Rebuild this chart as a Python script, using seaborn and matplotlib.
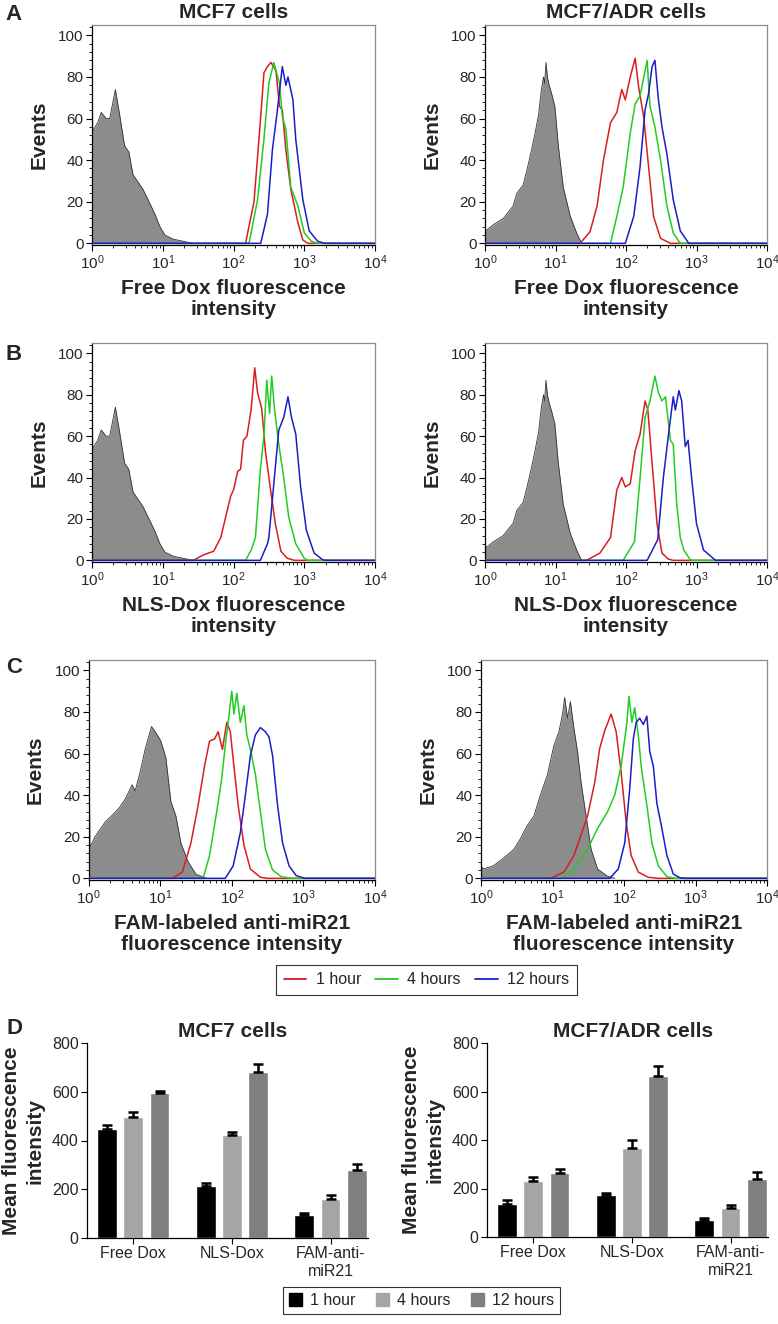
import numpy as np
import pandas as pd
import matplotlib
matplotlib.use("Agg")
import matplotlib.pyplot as plt
from matplotlib.lines import Line2D
from matplotlib.patches import Patch
from matplotlib.ticker import MultipleLocator, LogLocator, NullFormatter
import seaborn as sns

# === histogram data (x = log10 intensity, y = events) ===
# untreated controls (gray)
ctrl_mcf7_lx = [0.0, 0.01, 0.08, 0.13, 0.2, 0.25, 0.33, 0.39, 0.46, 0.52, 0.58, 0.62, 0.72, 0.82, 0.89, 0.96, 1.03, 1.15, 1.29, 1.43]
ctrl_mcf7_y = [100, 54, 58, 63, 60, 60, 74, 62, 47, 44, 33, 31, 26, 19, 14, 8, 4, 2, 1, 0]
ctrl_adr_lx = [0.0, 0.01, 0.12, 0.26, 0.40, 0.45, 0.54, 0.60, 0.66, 0.71, 0.76, 0.80, 0.83, 0.845, 0.865, 0.885, 0.91, 0.945, 0.99, 1.04, 1.11, 1.21, 1.30, 1.37]
ctrl_adr_y = [12, 6, 9, 12, 18, 24, 28, 36, 45, 53, 62, 74, 80, 77, 87, 80, 76, 72, 66, 47, 27, 13, 5, 0]
ctrl_fam_mcf7_lx = [0.0, 0.02, 0.05, 0.09, 0.13, 0.23, 0.32, 0.42, 0.51, 0.61, 0.65, 0.72, 0.79, 0.88, 0.96, 1.01, 1.08, 1.15, 1.22, 1.29, 1.39, 1.50, 1.65]
ctrl_fam_mcf7_y = [100, 15, 17, 20, 22, 27, 30, 33.5, 38, 45, 42, 51, 62, 73, 69, 66, 58, 37, 30, 17, 8, 2, 0]
ctrl_fam_adr_lx = [0.0, 0.03, 0.17, 0.27, 0.36, 0.46, 0.55, 0.64, 0.74, 0.83, 0.93, 1.02, 1.09, 1.14, 1.17, 1.21, 1.25, 1.30, 1.35, 1.40, 1.47, 1.54, 1.63, 1.77, 1.87]
ctrl_fam_adr_y = [6, 4.5, 6, 8.5, 11, 14, 19, 25, 30, 40, 50, 64, 70.5, 79, 87, 77, 85, 72, 61, 46, 30, 14, 4.5, 1, 0]

# A: free Dox
a_mcf7_1h_lx = [2.17, 2.29, 2.385, 2.43, 2.48, 2.53, 2.6, 2.65, 2.69, 2.74, 2.81, 2.91, 2.98, 3.05]
a_mcf7_1h_y = [0, 20, 61, 82, 85, 87, 83, 66, 64, 45, 26, 10, 1.6, 0]
a_mcf7_4h_lx = [2.22, 2.34, 2.43, 2.50, 2.57, 2.65, 2.69, 2.74, 2.81, 2.91, 3.0, 3.1, 3.19]
a_mcf7_4h_y = [0, 21, 50, 77, 87, 77, 61, 55, 27, 18, 5, 1, 0]
a_mcf7_12h_lx = [2.385, 2.48, 2.55, 2.62, 2.69, 2.74, 2.77, 2.84, 2.88, 2.98, 3.07, 3.19, 3.29]
a_mcf7_12h_y = [0, 14, 45, 64, 85, 76, 80, 69, 50, 21, 6, 1, 0]
a_adr_1h_lx = [1.35, 1.49, 1.59, 1.68, 1.78, 1.87, 1.94, 1.99, 2.06, 2.13, 2.18, 2.25, 2.32, 2.39, 2.49, 2.63]
a_adr_1h_y = [0, 5.6, 18, 40, 58, 63, 74, 69, 80, 89, 75, 61, 37, 13, 2.4, 0]
a_adr_4h_lx = [1.78, 1.87, 1.96, 2.06, 2.13, 2.20, 2.30, 2.34, 2.41, 2.49, 2.58, 2.67, 2.77]
a_adr_4h_y = [0, 13, 27, 53, 67, 71, 88, 66, 56, 40, 18, 5, 0]
a_adr_12h_lx = [1.99, 2.11, 2.20, 2.27, 2.32, 2.37, 2.41, 2.46, 2.51, 2.58, 2.67, 2.77, 2.89]
a_adr_12h_y = [0, 13, 37, 64, 72, 85, 88, 69, 56, 43, 21, 6, 0]

# B: NLS-Dox
b_mcf7_1h_lx = [1.43, 1.58, 1.72, 1.82, 1.96, 2.0, 2.06, 2.1, 2.14, 2.19, 2.25, 2.3, 2.34, 2.40, 2.45, 2.52, 2.59, 2.67, 2.76, 2.86]
b_mcf7_1h_y = [0, 2.7, 4.4, 11, 31, 34, 43, 44, 58, 60, 73, 93, 81, 73, 53, 35, 18, 4.4, 1, 0]
b_mcf7_4h_lx = [2.17, 2.25, 2.31, 2.38, 2.43, 2.47, 2.51, 2.54, 2.58, 2.64, 2.71, 2.78, 2.88, 3.0, 3.05]
b_mcf7_4h_y = [0, 5, 11, 44, 60, 87, 71, 89, 73, 56, 40, 21, 8, 1, 0]
b_mcf7_12h_lx = [2.38, 2.48, 2.5, 2.57, 2.64, 2.71, 2.77, 2.82, 2.88, 2.95, 3.03, 3.14, 3.26, 3.3]
b_mcf7_12h_y = [0, 8, 11, 37, 63, 69, 79, 69, 61, 35, 14.5, 3.5, 0.3, 0]
b_adr_1h_lx = [1.44, 1.63, 1.78, 1.87, 1.94, 1.99, 2.06, 2.13, 2.20, 2.27, 2.31, 2.37, 2.44, 2.51, 2.60, 2.67]
b_adr_1h_y = [0, 3.5, 11, 34, 40, 35.5, 37, 53, 61, 77, 72.6, 47, 17.7, 3.5, 0.6, 0]
b_adr_4h_lx = [1.96, 2.12, 2.20, 2.27, 2.34, 2.41, 2.46, 2.51, 2.56, 2.63, 2.67, 2.72, 2.77, 2.82, 2.91, 2.95]
b_adr_4h_y = [0, 9, 40, 69, 77, 89, 81, 77, 79, 58, 56, 27, 11, 5, 0.3, 0]
b_adr_12h_lx = [2.30, 2.45, 2.53, 2.60, 2.67, 2.70, 2.75, 2.79, 2.84, 2.88, 2.93, 3.0, 3.10, 3.27]
b_adr_12h_y = [0, 10, 40, 60, 79, 72.6, 82, 77, 55, 58, 40, 17.7, 5, 0]

# C: FAM-labeled anti-miR21
c_mcf7_1h_lx = [1.17, 1.31, 1.43, 1.53, 1.62, 1.69, 1.76, 1.81, 1.87, 1.93, 1.98, 2.03, 2.09, 2.17, 2.26, 2.40, 2.5]
c_mcf7_1h_y = [0, 3, 17, 35, 54, 66, 67, 70.5, 62, 75, 70.5, 54, 35, 16, 4.5, 0.5, 0]
c_mcf7_4h_lx = [1.60, 1.69, 1.79, 1.86, 1.91, 1.95, 2.0, 2.03, 2.07, 2.12, 2.17, 2.21, 2.26, 2.33, 2.40, 2.47, 2.57, 2.69, 2.83]
c_mcf7_4h_y = [0, 11, 32, 48, 64, 75, 90, 79, 89, 75, 83, 69, 62, 50, 32, 14, 4, 0.8, 0]
c_mcf7_12h_lx = [1.91, 2.02, 2.12, 2.19, 2.26, 2.33, 2.40, 2.47, 2.52, 2.57, 2.64, 2.71, 2.80, 2.90, 3.02]
c_mcf7_12h_y = [0, 6, 22, 40, 59, 69, 72.5, 70.5, 68, 59, 35, 17, 6, 1.3, 0]
c_adr_1h_lx = [0.97, 1.16, 1.30, 1.40, 1.49, 1.59, 1.66, 1.73, 1.82, 1.89, 1.96, 2.03, 2.10, 2.20, 2.34, 2.48]
c_adr_1h_y = [0, 3, 11, 21, 30, 46, 62.5, 71, 79, 70.5, 51, 27, 11, 3, 0.5, 0]
c_adr_4h_lx = [1.12, 1.30, 1.49, 1.63, 1.77, 1.87, 1.96, 2.01, 2.04, 2.07, 2.11, 2.15, 2.20, 2.24, 2.32, 2.39, 2.48, 2.60, 2.72]
c_adr_4h_y = [0, 4.5, 14, 24, 32, 40, 54, 67, 75, 87.5, 75, 82, 69, 54, 35, 17, 6, 0.8, 0]
c_adr_12h_lx = [1.80, 1.92, 2.01, 2.08, 2.13, 2.17, 2.22, 2.27, 2.32, 2.36, 2.41, 2.46, 2.53, 2.60, 2.69, 2.79, 2.86]
c_adr_12h_y = [0, 4.5, 17, 43, 67, 75, 77, 74, 78, 61, 54, 36, 24, 11, 2, 0.2, 0]

# === bar data (panel D) ===
groups = ["Free Dox", "NLS-Dox", "FAM-anti-\nmiR21"]
times = ["1 hour", "4 hours", "12 hours"]
mcf7_1h = [446, 215, 93]
mcf7_4h = [495, 421, 159]
mcf7_12h = [596, 681, 278]
mcf7_1h_err = [18, 10, 9]
mcf7_4h_err = [23, 12, 18]
mcf7_12h_err = [8, 32, 26]
adr_1h = [135, 172, 69]
adr_4h = [232, 365, 120]
adr_12h = [265, 662, 240]
adr_1h_err = [19, 11, 10]
adr_4h_err = [16, 34, 14]
adr_12h_err = [15, 44, 29]

xtick_vals = [1, 10, 100, 1000, 10000]
xtick_labels = [r"$10^{0}$", r"$10^{1}$", r"$10^{2}$", r"$10^{3}$", r"$10^{4}$"]

LINE_COLORS = ["#d81e1e", "#22cc22", "#1c1cc8"]
BAR_COLORS = ["#000000", "#a5a5a8", "#7f7f7f"]
GRAY_FILL = "#8c8c8c"

sns.set_theme(style="ticks")
plt.rcParams["font.family"] = ["Liberation Sans", "DejaVu Sans"]
plt.rcParams["mathtext.fontset"] = "custom"
plt.rcParams["mathtext.rm"] = "Liberation Sans"
plt.rcParams["mathtext.default"] = "regular"

W, H = 778, 1324
fig = plt.figure(figsize=(W / 100, H / 100), dpi=100)


def rect(x0, x1, ytop, ybot):
    return [x0 / W, 1 - ybot / H, (x1 - x0) / W, (ybot - ytop) / H]


def hist_panel(r, ctrl, curves, xlabel, title=None):
    ax = fig.add_axes(r)
    glx, gy = ctrl
    gx = 10 ** np.asarray(glx, dtype=float)
    ax.fill_between(gx, gy, 0, color=GRAY_FILL, lw=0, zorder=1)
    sns.lineplot(x=gx, y=gy, ax=ax, color="#333333", lw=0.6,
                 estimator=None, sort=False, zorder=2)
    for (clx, cy), col in zip(curves, LINE_COLORS):
        xx = 10 ** np.r_[0.0, clx, 4.0]
        yy = np.r_[0.0, cy, 0.0]
        sns.lineplot(x=xx, y=yy, ax=ax, color=col, lw=1.1,
                     estimator=None, sort=False, zorder=3)
    ax.set_xscale("log")
    ax.set_xlim(1, 1e4)
    ax.set_ylim(-0.8, 105)
    ax.set_xticks(xtick_vals, labels=xtick_labels)
    ax.xaxis.set_minor_locator(LogLocator(base=10, subs=np.arange(2, 10)))
    ax.xaxis.set_minor_formatter(NullFormatter())
    ax.set_yticks([0, 20, 40, 60, 80, 100])
    ax.yaxis.set_minor_locator(MultipleLocator(4))
    ax.tick_params(which="major", direction="out", length=4, width=0.8, color="black")
    ax.tick_params(which="minor", direction="out", length=2.5, width=0.6, color="black")
    ax.tick_params(axis="x", labelsize=11, pad=2)
    ax.tick_params(axis="y", labelsize=11, pad=2)
    for s in ["left", "bottom"]:
        ax.spines[s].set_color("black")
        ax.spines[s].set_linewidth(0.9)
    for s in ["top", "right"]:
        ax.spines[s].set_visible(True)
        ax.spines[s].set_color("#8c8c8c")
        ax.spines[s].set_linewidth(0.9)
    ax.set_ylabel("Events", fontsize=15, fontweight="bold", labelpad=7)
    ax.set_xlabel(xlabel, fontsize=15, fontweight="bold", labelpad=5, linespacing=1.15)
    if title:
        ax.set_title(title, fontsize=15, fontweight="bold", pad=5)
    return ax


hist_panel(rect(92, 375, 25, 245), (ctrl_mcf7_lx, ctrl_mcf7_y),
           [(a_mcf7_1h_lx, a_mcf7_1h_y), (a_mcf7_4h_lx, a_mcf7_4h_y), (a_mcf7_12h_lx, a_mcf7_12h_y)],
           "Free Dox fluorescence\nintensity", "MCF7 cells")
hist_panel(rect(485, 767, 25, 245), (ctrl_adr_lx, ctrl_adr_y),
           [(a_adr_1h_lx, a_adr_1h_y), (a_adr_4h_lx, a_adr_4h_y), (a_adr_12h_lx, a_adr_12h_y)],
           "Free Dox fluorescence\nintensity", "MCF7/ADR cells")
hist_panel(rect(92, 375, 343, 562), (ctrl_mcf7_lx, ctrl_mcf7_y),
           [(b_mcf7_1h_lx, b_mcf7_1h_y), (b_mcf7_4h_lx, b_mcf7_4h_y), (b_mcf7_12h_lx, b_mcf7_12h_y)],
           "NLS-Dox fluorescence\nintensity")
hist_panel(rect(485, 767, 343, 562), (ctrl_adr_lx, ctrl_adr_y),
           [(b_adr_1h_lx, b_adr_1h_y), (b_adr_4h_lx, b_adr_4h_y), (b_adr_12h_lx, b_adr_12h_y)],
           "NLS-Dox fluorescence\nintensity")
hist_panel(rect(88.5, 375, 660, 880), (ctrl_fam_mcf7_lx, ctrl_fam_mcf7_y),
           [(c_mcf7_1h_lx, c_mcf7_1h_y), (c_mcf7_4h_lx, c_mcf7_4h_y), (c_mcf7_12h_lx, c_mcf7_12h_y)],
           "FAM-labeled anti-miR21\nfluorescence intensity")
hist_panel(rect(481, 767, 660, 880), (ctrl_fam_adr_lx, ctrl_fam_adr_y),
           [(c_adr_1h_lx, c_adr_1h_y), (c_adr_4h_lx, c_adr_4h_y), (c_adr_12h_lx, c_adr_12h_y)],
           "FAM-labeled anti-miR21\nfluorescence intensity")

leg = fig.legend(handles=[Line2D([], [], color=c, lw=1.3) for c in LINE_COLORS], labels=times,
                 loc="center", bbox_to_anchor=(426.5 / W, 1 - 980 / H), ncol=3,
                 frameon=True, fancybox=False, edgecolor="black", fontsize=11.5,
                 handlelength=1.4, columnspacing=0.9, handletextpad=0.6, borderpad=0.5)
leg.get_frame().set_linewidth(0.8)


# === bar charts ===
def bar_panel(r, means, errs, title):
    ax = fig.add_axes(r)
    df = pd.DataFrame({
        "group": groups * 3,
        "time": np.repeat(times, 3),
        "value": np.concatenate(means),
    })
    sns.barplot(data=df, x="group", y="value", hue="time", order=groups, hue_order=times,
                palette=BAR_COLORS, width=0.8, gap=0.25, errorbar=None, saturation=1,
                legend=False, ax=ax)
    for cont, err in zip(ax.containers, errs):
        xs = [p.get_x() + p.get_width() / 2 for p in cont]
        hs = [p.get_height() for p in cont]
        ax.errorbar(xs, hs, yerr=[np.zeros(len(err)), err], fmt="none", ecolor="black",
                    elinewidth=1.8, capsize=3.5, capthick=1.8, zorder=3)
    ax.set_xlim(-0.47, 2.38)
    ax.set_ylim(0, 800)
    ax.set_yticks([0, 200, 400, 600, 800])
    sns.despine(ax=ax)
    for s in ["left", "bottom"]:
        ax.spines[s].set_color("black")
        ax.spines[s].set_linewidth(0.9)
    ax.tick_params(direction="out", length=4, width=0.8, color="black", labelsize=11.5, pad=2)
    for t in ax.get_xticklabels():
        t.set_linespacing(1.2)
    ax.set_xlabel("")
    ax.set_ylabel("Mean fluorescence\nintensity", fontsize=15, fontweight="bold",
                  labelpad=5, linespacing=1.35)
    ax.set_title(title, fontsize=15, fontweight="bold", pad=4, x=0.52)
    return ax


bar_panel(rect(87, 368, 1043, 1238), [mcf7_1h, mcf7_4h, mcf7_12h],
          [mcf7_1h_err, mcf7_4h_err, mcf7_12h_err], "MCF7 cells")
bar_panel(rect(487, 768, 1043, 1237), [adr_1h, adr_4h, adr_12h],
          [adr_1h_err, adr_4h_err, adr_12h_err], "MCF7/ADR cells")

leg2 = fig.legend(handles=[Patch(color=c) for c in BAR_COLORS], labels=times,
                  loc="center", bbox_to_anchor=(421.5 / W, 1 - 1300.5 / H), ncol=3,
                  frameon=True, fancybox=False, edgecolor="black", fontsize=11.5,
                  handlelength=0.8, handleheight=0.8, columnspacing=1.3,
                  handletextpad=0.5, borderpad=0.4)
leg2.get_frame().set_linewidth(0.8)

# panel letters
for letter, ytop in [("A", 4), ("B", 344), ("C", 657), ("D", 1018)]:
    fig.text(14 / W, 1 - ytop / H, letter, ha="center", va="top", fontsize=16, fontweight="bold")

fig.savefig("out.png", dpi=100)
